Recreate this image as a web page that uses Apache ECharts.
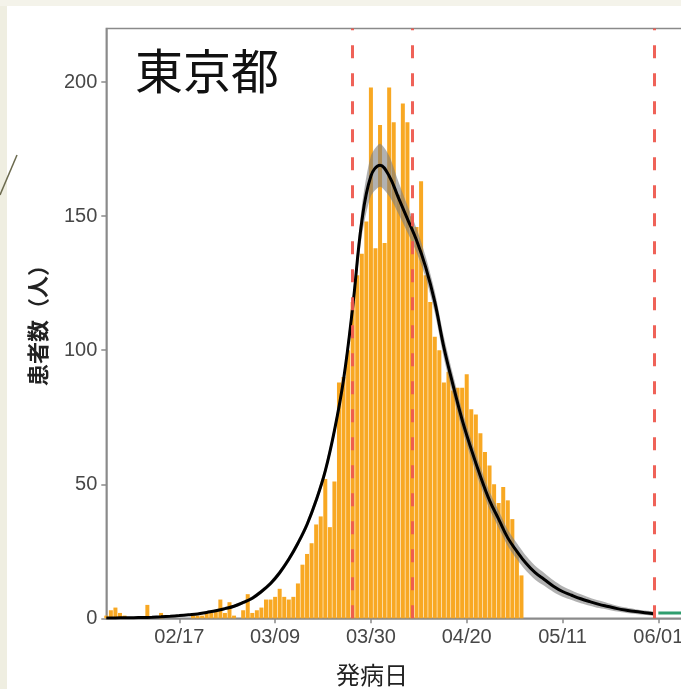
<!DOCTYPE html>
<html>
<head>
<meta charset="utf-8">
<script src="https://cdn.jsdelivr.net/npm/echarts@6/dist/echarts.min.js"></script>
<style>
  html, body { margin: 0; padding: 0; background: #ffffff; }
  #chart { width: 681px; height: 689px; }
</style>
</head>
<body>
<div id="chart"></div>
<script>
// ---- data (day index: 0 = 02/01) ----
const barValues = [
  1, 3, 4, 2, 1, 0, 0, 0, 0, 5,
  0, 0, 2, 0, 0, 0, 0, 0, 0, 1,
  1, 1, 2, 2, 3, 7, 2, 6, 1, 0,
  3, 9, 2, 3, 4, 7, 7, 8, 11, 8,
  7, 8, 13, 20, 24, 28, 35, 38, 52, 34,
  51, 88, 90, 100, 118, 128, 136, 148, 198, 138,
  184, 140, 198, 185, 158, 192, 185, 150, 146, 163,
  128, 118, 105, 100, 88, 92, 85, 86, 86, 91,
  78, 76, 69, 62, 57, 50, 43, 49, 44, 37,
  25, 16
];
const barDays = barValues.map((v, i) => i);

// fitted curve, read every 2 days (02/01 .. 05/31)
const fitDays = [];
for (let d = 0; d <= 120; d += 2) fitDays.push(d);
const fitValues = [
  0.1, 0.15, 0.2, 0.25, 0.3, 0.4, 0.55, 0.75, 1.0, 1.3, 1.6, 2.2, 2.8, 3.6, 4.5, 5.9,
  7.5, 10, 13, 17, 22, 28, 35, 44, 55, 70,
  89, 116, 148, 165, 169, 165, 157, 149, 141, 131,
  118, 101, 87, 74, 63, 53, 44, 37, 30, 25,
  20.5, 17, 14.5, 12, 10, 8.6, 7.3, 6.2, 5.2, 4.4,
  3.6, 3.0, 2.5, 2.1, 1.7
];
// half width of the grey confidence band at the same days
const bandHalfWidth = [
  0.1, 0.1, 0.1, 0.1, 0.1, 0.2, 0.2, 0.3, 0.3, 0.35, 0.4, 0.45, 0.5, 0.55, 0.6, 0.65,
  0.7, 0.8, 0.9, 1, 1.1, 1.2, 1.4, 1.6, 1.8, 2,
  2.5, 3.5, 5.5, 7.5, 8, 7.5, 6, 5, 4.5, 4,
  4, 4, 3.8, 3.6, 3.5, 3.4, 3.3, 3.2, 3, 3,
  2.8, 2.6, 2.4, 2.2, 2, 1.8, 1.7, 1.5, 1.4, 1.2,
  1.1, 1, 0.9, 0.8, 0.7
];

const greenDays = [121, 130];
const greenValues = [2, 2];

const redLineDays = [54, 67, 120];

const xTickDays = [16, 37, 58, 79, 100, 121];
const xTickLabels = ['02/17', '03/09', '03/30', '04/20', '05/11', '06/01'];
const yTickValues = [0, 50, 100, 150, 200];

// ---- build ----
const barData = barDays.map((d, i) => [d, barValues[i]]);
const fitData = fitDays.map((d, i) => [d, fitValues[i]]);
const greenData = greenDays.map((d, i) => [d, greenValues[i]]);

const chart = echarts.init(document.getElementById('chart'), null, { renderer: 'canvas' });
const axisGray = '#8a8a8a';
const labelGray = '#474747';
const latin = '"Liberation Sans", Arial, sans-serif';
const cjk = '"Noto Sans CJK JP", "Noto Sans", sans-serif';

function renderBand(params, api) {
  if (params.dataIndex !== 0) return null;
  const upper = [], lower = [];
  for (let i = 0; i < fitDays.length; i++) {
    upper.push(api.coord([fitDays[i], fitValues[i] + bandHalfWidth[i]]));
    lower.push(api.coord([fitDays[i], Math.max(0, fitValues[i] - bandHalfWidth[i])]));
  }
  const pts = upper.concat(lower.reverse());
  return {
    type: 'polygon',
    shape: { points: pts, smooth: 0.25 },
    style: { fill: '#7d7d7d', opacity: 0.6 }
  };
}

chart.setOption({
  backgroundColor: '#ffffff',
  animation: false,
  grid: {
    left: 106.3, top: 28.5, height: 589.8, width: 593.1,
    outerBoundsMode: 'none', containLabel: false,
    show: true, borderColor: axisGray, borderWidth: 1.5, backgroundColor: '#ffffff'
  },
  xAxis: {
    type: 'value', min: 0, max: 130,
    axisLine: { show: true, lineStyle: { color: axisGray, width: 1.5 } },
    axisTick: { show: true, length: 5, lineStyle: { color: axisGray, width: 1.5 }, customValues: xTickDays },
    axisLabel: {
      customValues: xTickDays, margin: 9,
      color: labelGray, fontSize: 20, fontFamily: latin,
      formatter: (v) => { const k = xTickDays.indexOf(Math.round(v)); return k >= 0 ? xTickLabels[k] : ''; }
    },
    splitLine: { show: false }
  },
  yAxis: {
    type: 'value', min: 0, max: 220,
    axisLine: { show: true, lineStyle: { color: axisGray, width: 1.5 } },
    axisTick: { show: true, length: 5, lineStyle: { color: axisGray, width: 1.5 }, customValues: yTickValues },
    axisLabel: { customValues: yTickValues, margin: 9, color: labelGray, fontSize: 20, fontFamily: latin },
    splitLine: { show: false }
  },
  series: [
    {
      type: 'bar', data: barData, barWidth: 4.0, z: 2,
      itemStyle: { color: '#F8A823' },
      markLine: {
        silent: true, symbol: ['none', 'none'], z: 6,
        label: { show: false },
        lineStyle: { color: '#EE5A4F', type: [13, 15], width: 3, opacity: 0.95 },
        data: redLineDays.map(d => ({ xAxis: d }))
      }
    },
    {
      type: 'custom', renderItem: renderBand, data: [0], z: 3, silent: true
    },
    {
      type: 'line', data: fitData, smooth: 0.4,
      symbol: 'none', lineStyle: { color: '#000000', width: 3 }, z: 5
    },
    {
      type: 'line', data: greenData, symbol: 'none',
      lineStyle: { color: '#2f9e6e', width: 3 }, z: 5
    }
  ],
  graphic: [
    { type: 'rect', shape: { x: 0, y: 0, width: 7, height: 689 }, style: { fill: '#efeee1' }, z: 100 },
    { type: 'rect', shape: { x: 0, y: 0, width: 681, height: 6 }, style: { fill: '#f4f3ea' }, z: 100 },
    { type: 'line', shape: { x1: 0, y1: 195, x2: 17, y2: 155 }, style: { stroke: '#6b6a4e', lineWidth: 1.5 }, z: 100 },
    {
      type: 'text', x: 135, y: 47, z: 100,
      style: { text: '東京都', fontSize: 48, fontFamily: cjk, fill: '#111111', textVerticalAlign: 'top' }
    },
    {
      type: 'text', x: 38, y: 320, rotation: Math.PI / 2, z: 100,
      style: { text: '患者数（人）', fontSize: 22, fontWeight: 'bold', fontFamily: cjk, fill: '#222222', textAlign: 'center', textVerticalAlign: 'middle' }
    },
    {
      type: 'text', x: 372, y: 675, z: 100,
      style: { text: '発病日', fontSize: 24, fontFamily: cjk, fill: '#222222', textAlign: 'center', textVerticalAlign: 'middle' }
    }
  ]
});
</script>
</body>
</html>
